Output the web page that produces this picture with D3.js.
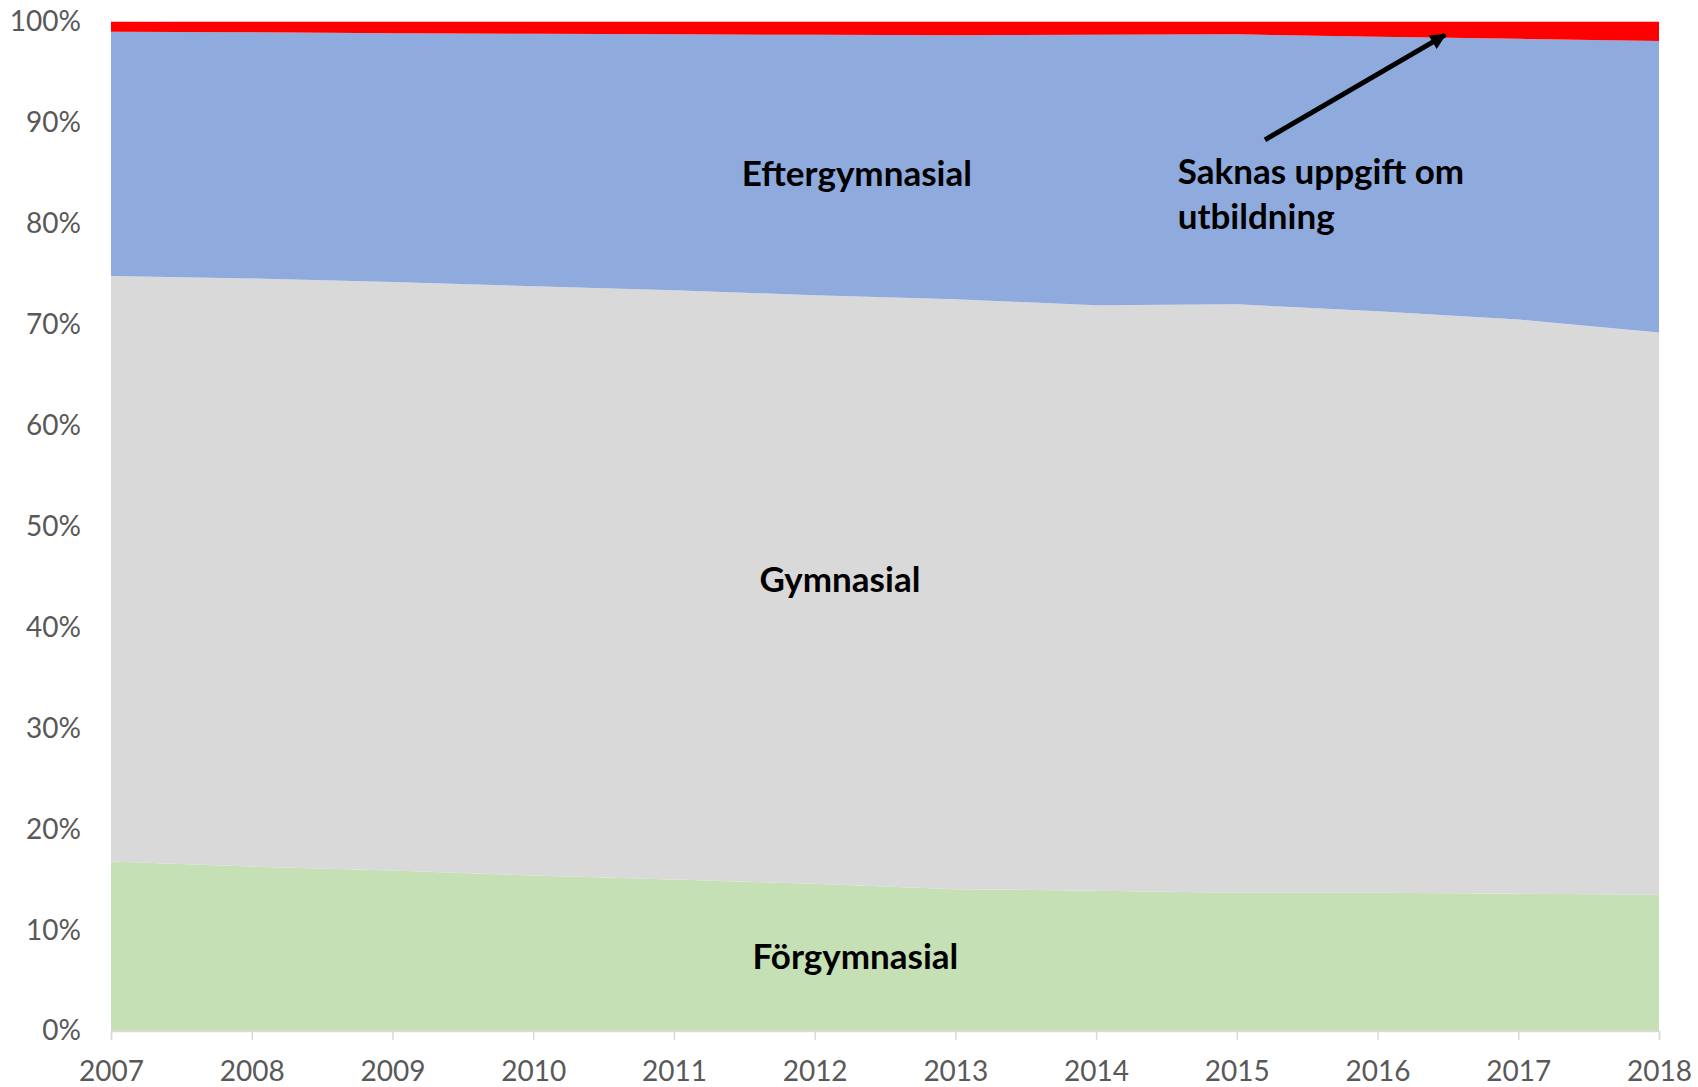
<!DOCTYPE html>
<html>
<head>
<meta charset="utf-8">
<script src="https://cdn.jsdelivr.net/npm/d3@7"></script>
<style>
  body { margin: 0; background: #fff; }
  text { font-family: Lato, "Open Sans", sans-serif; }
</style>
</head>
<body>
<div id="chart"></div>
<script>

// shares in percent
var years = [2007, 2008, 2009, 2010, 2011, 2012, 2013, 2014, 2015, 2016, 2017, 2018];
var forgymnasial   = [16.8, 16.3, 15.9, 15.4, 15.0, 14.6, 14.05, 13.9, 13.7, 13.7, 13.6, 13.5];
var gymnasial      = [58.0, 58.3, 58.3, 58.4, 58.4, 58.3, 58.45, 58.0, 58.3, 57.6, 56.9, 55.7];
var eftergymnasial = [24.2, 24.4, 24.65, 25.0, 25.35, 25.8, 26.15, 26.8, 26.75, 27.2, 27.8, 28.9];
var saknas         = [1.0, 1.05, 1.15, 1.2, 1.25, 1.3, 1.35, 1.3, 1.25, 1.5, 1.7, 1.9];

var keys = ["Förgymnasial", "Gymnasial", "Eftergymnasial", "Saknas uppgift om utbildning"];
var colors = ["#c5e0b4", "#d9d9d9", "#8faadc", "#ff0000"];
var yTicks = [0, 0.1, 0.2, 0.3, 0.4, 0.5, 0.6, 0.7, 0.8, 0.9, 1];

// label spots, in data space (year, share)
var areaLabels = [
  {text: "Eftergymnasial", year: 2012.30, share: 0.837},
  {text: "Gymnasial", year: 2012.18, share: 0.435},
  {text: "Förgymnasial", year: 2012.29, share: 0.061}
];
var noteLines = ["Saknas uppgift om", "utbildning"];
var note = {year: 2014.58, share: 0.839, lineShare: 0.044};
var arrow = {from: [2015.2, 0.883], to: [2016.48, 0.987]};

var width = 1698,
    height = 1087;
var margin = {top: 21.7, right: 39, bottom: 56, left: 111};

var svg = d3.select("#chart").append("svg")
    .attr("width", width)
    .attr("height", height);

var rows = years.map(function(y, i) {
  var r = {year: y};
  r[keys[0]] = forgymnasial[i];
  r[keys[1]] = gymnasial[i];
  r[keys[2]] = eftergymnasial[i];
  r[keys[3]] = saknas[i];
  return r;
});

var series = d3.stack().keys(keys).offset(d3.stackOffsetExpand)(rows);

var x = d3.scaleLinear()
    .domain([years[0], years[years.length - 1]])
    .range([margin.left, width - margin.right]);

var y = d3.scaleLinear()
    .domain([0, 1])
    .range([height - margin.bottom, margin.top]);

var area = d3.area()
    .x(function(d) { return x(d.data.year); })
    .y0(function(d) { return y(d[0]); })
    .y1(function(d) { return y(d[1]); });

svg.append("g")
  .selectAll("path")
  .data(series)
  .enter().append("path")
    .attr("fill", function(d, i) { return colors[i]; })
    .attr("d", area);

// x axis
var xAxis = svg.append("g")
    .attr("transform", "translate(0," + y(0) + ")")
    .call(d3.axisBottom(x).tickValues(years).tickFormat(d3.format("d")).tickSize(9).tickPadding(21));
xAxis.select(".domain").attr("stroke", "#d9d9d9").attr("stroke-width", 1.5);
xAxis.selectAll(".tick line").attr("stroke", "#d9d9d9").attr("stroke-width", 1.5);
xAxis.selectAll("text")
    .attr("fill", "#595959")
    .style("font-size", "28px")
    .style("font-family", "Lato, 'Open Sans', sans-serif");

// y axis
var yAxis = svg.append("g")
    .attr("transform", "translate(" + margin.left + ",0)")
    .call(d3.axisLeft(y).tickValues(yTicks).tickFormat(d3.format(".0%")).tickSize(0).tickPadding(30));
yAxis.select(".domain").remove();
yAxis.selectAll("text")
    .attr("fill", "#595959")
    .style("font-size", "28px")
    .style("font-family", "Lato, 'Open Sans', sans-serif");

// labels inside the areas
svg.append("g")
  .selectAll("text")
  .data(areaLabels)
  .enter().append("text")
    .attr("x", function(d) { return x(d.year); })
    .attr("y", function(d) { return y(d.share); })
    .attr("text-anchor", "middle")
    .style("font-size", "35px")
    .style("font-weight", "bold")
    .attr("fill", "#000")
    .text(function(d) { return d.text; });

svg.append("g")
  .selectAll("text")
  .data(noteLines)
  .enter().append("text")
    .attr("x", x(note.year))
    .attr("y", function(d, i) { return y(note.share - i * note.lineShare); })
    .style("font-size", "35px")
    .style("font-weight", "bold")
    .attr("fill", "#000")
    .text(function(d) { return d; });

// arrow to the red band
svg.append("defs").append("marker")
    .attr("id", "head")
    .attr("markerUnits", "userSpaceOnUse")
    .attr("viewBox", "0 0 10 10")
    .attr("refX", 9)
    .attr("refY", 5)
    .attr("markerWidth", 18)
    .attr("markerHeight", 16)
    .attr("orient", "auto")
  .append("path")
    .attr("d", "M0,0L10,5L0,10z")
    .attr("fill", "#000");

svg.append("line")
    .attr("x1", x(arrow.from[0]))
    .attr("y1", y(arrow.from[1]))
    .attr("x2", x(arrow.to[0]))
    .attr("y2", y(arrow.to[1]))
    .attr("stroke", "#000")
    .attr("stroke-width", 5)
    .attr("marker-end", "url(#head)");

</script>
</body>
</html>
